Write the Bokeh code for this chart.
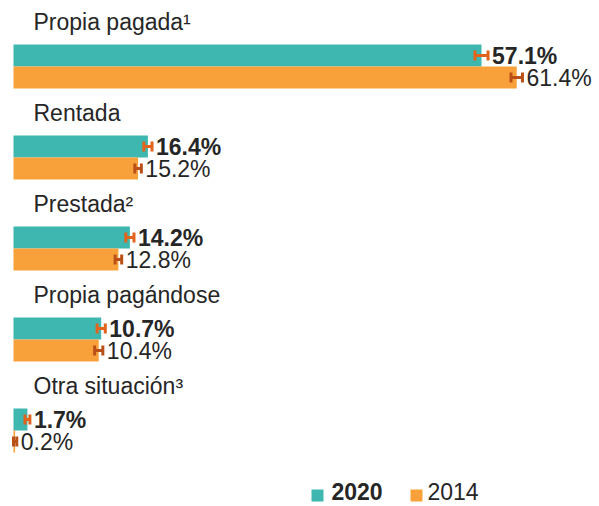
import numpy as np
from bokeh.plotting import figure
from bokeh.models import Range1d
from bokeh.core.properties import value
from bokeh.embed import file_html
from bokeh.resources import INLINE

# ---- data ----
categories = ["Propia pagada\u00b9", "Rentada", "Prestada\u00b2", "Propia pagándose", "Otra situación\u00b3"]
values_2020 = [57.1, 16.4, 14.2, 10.7, 1.7]
values_2014 = [61.4, 15.2, 12.8, 10.4, 0.2]
err_2020 = [0.8, 0.5, 0.5, 0.5, 0.3]
err_2014 = [0.7, 0.4, 0.4, 0.5, 0.2]
series_labels = ["2020", "2014"]

# ---- style / layout ----
TEAL = "#3DB7B0"
ORANGE = "#F8A13A"
ERR20 = "#E2631B"
ERR14 = "#BA5018"
TXT = "#262626"
FONT = value("Liberation Sans")
FS = "23px"

W, H = 599, 506
PX_PER_UNIT = 8.196
X0_PX = 13
x_start = -X0_PX / PX_PER_UNIT
x_end = x_start + W / PX_PER_UNIT


def px_to_x(px):
    return (px - X0_PX) / PX_PER_UNIT


p = figure(width=W, height=H, x_range=Range1d(x_start, x_end), y_range=Range1d(H, 0),
           output_backend="svg", toolbar_location=None, min_border=0,
           x_axis_location=None, y_axis_location=None)
p.grid.visible = False
p.outline_line_color = None
p.background_fill_color = "white"
p.border_fill_color = "white"

GROUP_STEP = 91
FIRST_CENTER = 55
BAR_H = 22
idx = np.arange(len(categories))
y20 = FIRST_CENTER + GROUP_STEP * idx
y14 = y20 + BAR_H
ylab = y20 - 34

v20 = np.array(values_2020)
v14 = np.array(values_2014)
e20 = np.array(err_2020)
e14 = np.array(err_2014)

# category labels
p.text(x=[0] * len(categories), y=ylab, text=categories, x_offset=20,
       text_baseline="middle", text_align="left", text_font=FONT,
       text_font_size=FS, text_color=TXT)

for vals, errs, ys, col, ecol, bold in [(v20, e20, y20, TEAL, ERR20, True),
                                         (v14, e14, y14, ORANGE, ERR14, False)]:
    p.hbar(y=ys, left=0, right=vals, height=BAR_H, fill_color=col, line_color=None)
    # error bars
    p.segment(x0=vals - errs, x1=vals + errs, y0=ys, y1=ys, line_color=ecol, line_width=3)
    p.segment(x0=vals - errs, x1=vals - errs, y0=ys - 5, y1=ys + 5, line_color=ecol, line_width=3)
    p.segment(x0=vals + errs, x1=vals + errs, y0=ys - 5, y1=ys + 5, line_color=ecol, line_width=3)
    p.text(x=vals + errs, y=ys, text=[f"{v:.1f}%" for v in vals], x_offset=4,
           text_baseline="middle", text_align="left", text_font=FONT, text_font_size=FS,
           text_font_style="bold" if bold else "normal", text_color=TXT)

# legend (manual)
LEG_Y = 491
for lab, col, sq_px, tx_px, bold in [(series_labels[0], TEAL, 317, 331, True),
                                      (series_labels[1], ORANGE, 416, 427, False)]:
    p.rect(x=[px_to_x(sq_px)], y=[LEG_Y + 4], width=12 / PX_PER_UNIT, height=12,
           fill_color=col, line_color=None)
    p.text(x=[px_to_x(tx_px)], y=[LEG_Y], text=[lab], text_baseline="middle",
           text_align="left", text_font=FONT, text_font_size=FS,
           text_font_style="bold" if bold else "normal", text_color=TXT)

open("out.html", "w").write(file_html(p, INLINE))
